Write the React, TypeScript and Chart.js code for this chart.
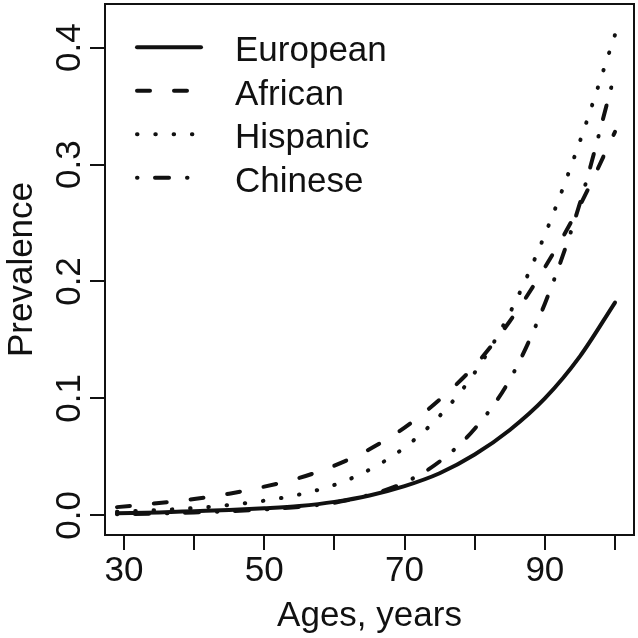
import { useEffect, useRef } from "react";
import { Chart, registerables } from "chart.js";

Chart.register(...registerables);

// ---- data ----
const ages = [29, 35, 40, 45, 50, 55, 60, 65, 70, 75, 80, 85, 90, 95, 100];
const european = [0.0018, 0.0025, 0.0035, 0.0045, 0.006, 0.008, 0.0115, 0.017, 0.025, 0.036, 0.052, 0.073, 0.1, 0.136, 0.182];
const african = [0.007, 0.0105, 0.014, 0.0185, 0.0245, 0.032, 0.0425, 0.0565, 0.075, 0.099, 0.128, 0.166, 0.212, 0.265, 0.328];
const hispanic = [0.003, 0.0045, 0.0062, 0.0088, 0.0125, 0.0178, 0.026, 0.039, 0.058, 0.085, 0.122, 0.173, 0.24, 0.32, 0.411];
const chinese = [0.001, 0.0015, 0.0025, 0.0035, 0.005, 0.0072, 0.0108, 0.0175, 0.028, 0.046, 0.074, 0.116, 0.181, 0.267, 0.378];
const seriesNames = ["European", "African", "Hispanic", "Chinese"];

const xTicks = [30, 40, 50, 60, 70, 80, 90, 100];
const xTickLabels = ["30", "", "50", "", "70", "", "90", ""];
const yTicks = [0, 0.1, 0.2, 0.3, 0.4];
const yTickLabels = ["0.0", "0.1", "0.2", "0.3", "0.4"];
const xTitle = "Ages, years";
const yTitle = "Prevalence";

const FONT = '"Liberation Sans", Arial, Helvetica, sans-serif';
const INK = "#111111";
const dashes: number[][] = [[], [13, 24], [0.5, 17.8], [0.5, 17.5, 14, 18]];

const decor = {
  id: "decor",
  afterDraw(chart: any) {
    const { ctx, chartArea: a, scales } = chart;
    const xs = scales.x;
    const ys = scales.y;
    ctx.save();
    ctx.strokeStyle = INK;
    ctx.lineWidth = 2;
    ctx.setLineDash([]);
    ctx.strokeRect(a.left, a.top, a.right - a.left, a.bottom - a.top);

    ctx.fillStyle = INK;
    ctx.font = `35px ${FONT}`;
    ctx.textAlign = "center";
    ctx.textBaseline = "alphabetic";
    xTicks.forEach((v, i) => {
      if (xTickLabels[i]) ctx.fillText(xTickLabels[i], xs.getPixelForValue(v), a.bottom + 46);
    });
    yTicks.forEach((v, i) => {
      ctx.save();
      ctx.translate(a.left - 25, ys.getPixelForValue(v));
      ctx.rotate(-Math.PI / 2);
      ctx.fillText(yTickLabels[i], 0, 0);
      ctx.restore();
    });
    ctx.fillText(xTitle, (a.left + a.right) / 2, a.bottom + 91);
    ctx.save();
    ctx.translate(32, (a.top + a.bottom) / 2);
    ctx.rotate(-Math.PI / 2);
    ctx.fillText(yTitle, 0, 0);
    ctx.restore();

    // legend (no box)
    ctx.textAlign = "left";
    chart.data.datasets.forEach((ds: any, i: number) => {
      const y = a.top + 43.3 + i * 43.5;
      ctx.save();
      ctx.strokeStyle = INK;
      ctx.lineWidth = 4;
      ctx.lineCap = "round";
      ctx.setLineDash(ds.borderDash || []);
      ctx.beginPath();
      ctx.moveTo(137, y);
      ctx.lineTo(201, y);
      ctx.stroke();
      ctx.restore();
      ctx.fillText(ds.label, 235, y + 14);
    });
    ctx.restore();
  },
};

export default function App() {
  const ref = useRef<HTMLCanvasElement | null>(null);
  useEffect(() => {
    if (!ref.current) return;
    const series = [european, african, hispanic, chinese];
    const chart = new Chart(ref.current, {
      type: "line",
      data: {
        datasets: series.map((vals, i) => ({
          label: seriesNames[i],
          data: ages.map((x, j) => ({ x, y: vals[j] })),
          borderColor: INK,
          borderWidth: 4,
          borderDash: dashes[i],
          borderCapStyle: "round",
          borderJoinStyle: "round",
          pointRadius: 0,
          fill: false,
          cubicInterpolationMode: "monotone",
        })),
      },
      options: {
        responsive: false,
        animation: false,
        devicePixelRatio: 1,
        layout: { padding: { left: 0, top: 4, right: 4, bottom: 0 } },
        plugins: { legend: { display: false }, tooltip: { enabled: false } },
        scales: {
          x: {
            type: "linear",
            min: 27.291,
            max: 102.709,
            afterBuildTicks: (s: any) => {
              s.ticks = xTicks.map((v) => ({ value: v }));
            },
            afterFit: (s: any) => {
              s.height = 103;
            },
            ticks: { display: false },
            grid: { drawOnChartArea: false, drawTicks: true, tickLength: 15, color: INK, lineWidth: 2 },
            border: { display: false },
          },
          y: {
            type: "linear",
            min: -0.01685,
            max: 0.43738,
            afterBuildTicks: (s: any) => {
              s.ticks = yTicks.map((v) => ({ value: v }));
            },
            afterFit: (s: any) => {
              s.width = 105;
            },
            ticks: { display: false },
            grid: { drawOnChartArea: false, drawTicks: true, tickLength: 15, color: INK, lineWidth: 2 },
            border: { display: false },
          },
        },
      } as any,
      plugins: [decor],
    });
    return () => chart.destroy();
  }, []);
  return (
    <div style={{ position: "fixed", left: 0, top: 0, width: 638, height: 638, background: "#fff" }}>
      <canvas ref={ref} width={638} height={638} style={{ display: "block" }} />
    </div>
  );
}
